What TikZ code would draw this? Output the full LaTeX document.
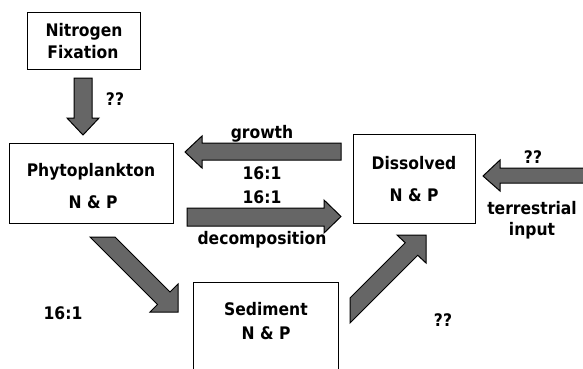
\documentclass[tikz,border=0pt]{standalone}
\usepackage{fontspec}
\setmainfont{DejaVu Sans Condensed}
\begin{document}
\begin{tikzpicture}[x=1pt,y=-1pt,
  box/.style={draw, line width=1pt, inner sep=0pt},
  lbl/.style={font=\bfseries\fontsize{17.3}{20}\selectfont, anchor=base, inner sep=0pt},
  blockarrow/.style={draw=black, line width=1pt, fill=black!60, line join=miter}]
\useasboundingbox (0,0) rectangle (583,368);
\clip (0,0) rectangle (583,368);
% boxes
\node[box, minimum width=113pt, minimum height=57pt] (nfix) at (83.5,40.5) {};
\node[box, minimum width=164pt, minimum height=80pt] (phyto) at (91,183) {};
\node[box, minimum width=122pt, minimum height=89pt] (diss) at (414,178.5) {};
\node[box, minimum width=145pt, minimum height=100pt, anchor=north] (sed) at (265.5,282) {};
% box texts
\node[lbl] (t1) at (84,36.5) {Nitrogen};
\node[lbl] (t2) at (83,58.5) {Fixation};
\node[lbl] (t3) at (91,176.5) {Phytoplankton};
\node[lbl] (t4) at (93,208.5) {N \& P};
\node[lbl] (t5) at (414,169.5) {Dissolved};
\node[lbl] (t6) at (414,201.5) {N \& P};
\node[lbl] (t7) at (266,315.5) {Sediment};
\node[lbl] (t8) at (266,339.5) {N \& P};
% arrow labels
\node[lbl] (q1) at (115,105.5) {??};
\node[lbl] (g) at (262,138.5) {growth};
\node[lbl] (r1) at (262,179.5) {16:1};
\node[lbl] (r2) at (262,203.5) {16:1};
\node[lbl] (d) at (262,244.5) {decomposition};
\node[lbl] (q2) at (533,163.5) {??};
\node[lbl] (te) at (532,214.5) {terrestrial};
\node[lbl] (in) at (532,235.5) {input};
\node[lbl] (r3) at (63,319.5) {16:1};
\node[lbl] (q3) at (443,326.5) {??};
% block arrows
\draw[blockarrow] (74,78) -- (92,78) -- (92,118) -- (99,118) -- (83,135) -- (67,118) -- (74,118) -- cycle;
\draw[blockarrow] (341,143) -- (341,160) -- (202,160) -- (202,168) -- (185,152) -- (202,136) -- (202,143) -- cycle;
\draw[blockarrow] (187,208) -- (324,208) -- (324,200) -- (341,216.5) -- (324,233) -- (324,226) -- (187,226) -- cycle;
\draw[blockarrow] (590,168) -- (500,168) -- (500,160) -- (483,176) -- (500,191) -- (500,183) -- (590,183) -- cycle;
\draw[blockarrow] (90,237) -- (115,237) -- (170,292) -- (178,284) -- (178,312) -- (150,312) -- (157.5,304.5) -- cycle;
\draw[blockarrow] (350,298) -- (405.25,242.75) -- (397,235) -- (426,235) -- (426,263) -- (417.75,255.25) -- (350,323) -- cycle;
\end{tikzpicture}
\end{document}
